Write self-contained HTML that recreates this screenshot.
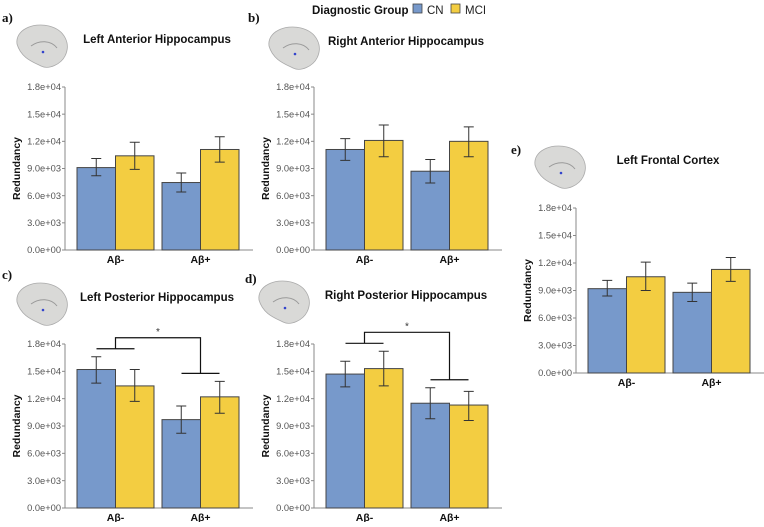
<!DOCTYPE html>
<html><head><meta charset="utf-8"><style>
body{margin:0;background:#fff;width:764px;height:522px;overflow:hidden}
svg{font-family:"Liberation Sans",sans-serif}
</style></head><body>
<svg id="c" width="764" height="522">
<g>
<text x="312" y="14" font-size="11.5" font-weight="bold" fill="#111">Diagnostic Group</text>
<rect x="413" y="4" width="9" height="9" fill="#7799cb" stroke="#444" stroke-width="0.8"/>
<text x="427" y="14" font-size="11.5" fill="#222">CN</text>
<rect x="451" y="4" width="9" height="9" fill="#f3cd41" stroke="#444" stroke-width="0.8"/>
<text x="465" y="14" font-size="11.5" fill="#222">MCI</text>
</g>
</svg>
<script>
const panelLetters=["a)","b)","c)","d)","e)"];
const panelTitles=["Left Anterior Hippocampus","Right Anterior Hippocampus","Left Posterior Hippocampus","Right Posterior Hippocampus","Left Frontal Cortex"];
const categories=["Aβ-","Aβ+"];
const tickValues=[0,3000,6000,9000,12000,15000,18000];
const tickLabels=["0.0e+00","3.0e+03","6.0e+03","9.0e+03","1.2e+04","1.5e+04","1.8e+04"];
const cnMeans=[[9100,7450],[11100,8700],[15200,9700],[14700,11500],[9200,8800]];
const cnLow=[[8200,6400],[9900,7400],[13700,8200],[13300,9800],[8400,7800]];
const cnHigh=[[10100,8500],[12300,10000],[16600,11200],[16100,13200],[10100,9800]];
const mciMeans=[[10400,11100],[12100,12000],[13400,12200],[15300,11300],[10500,11300]];
const mciLow=[[8900,9700],[10300,10300],[11700,10400],[13400,9600],[9000,10000]];
const mciHigh=[[11900,12500],[13800,13600],[15200,13900],[17200,12800],[12100,12600]];
const sig=[false,false,true,true,false];

const layout=[{ax:65,y0:250,top:87,lx:2,ly:22,bx:15,by:22},{ax:314,y0:250,top:87,lx:248,ly:22,bx:267,by:24},
{ax:65,y0:508,top:344,lx:2,ly:279,bx:15,by:280},{ax:314,y0:508,top:344,lx:245,ly:283,bx:257,by:278},
{ax:576,y0:373,top:208,lx:511,ly:154,bx:533,by:143}];
const NS="http://www.w3.org/2000/svg";
const svg=document.getElementById('c');
function mk(t,a,p){const e=document.createElementNS(NS,t);for(const k in a)e.setAttribute(k,a[k]);(p||svg).appendChild(e);return e;}
layout.forEach((L,i)=>{
  const g=mk('g',{});
  
  
  const y=v=>L.y0-v/18000*(L.y0-L.top);
  const x0=L.ax+12, bw=38.5, gap=8;
  const bx=(c,s)=>x0+c*(2*bw+gap)+s*bw;
  const lt=mk('text',{x:L.lx,y:L.ly,'font-size':13,'font-weight':'bold','font-family':'Liberation Serif,serif',fill:'#111'},g);lt.textContent=panelLetters[i];
  
  const br=mk('g',{},g);
  
  mk('path',{d:`M${L.bx+2},${L.by+22} C${L.bx},${L.by+8} ${L.bx+18},${L.by} ${L.bx+34},${L.by+4} C${L.bx+50},${L.by+8} ${L.bx+56},${L.by+22} ${L.bx+50},${L.by+34} C${L.bx+46},${L.by+42} ${L.bx+34},${L.by+48} ${L.bx+26},${L.by+44} C${L.bx+18},${L.by+40} ${L.bx+6},${L.by+36} ${L.bx+2},${L.by+22}Z`,fill:'#d9d9d7',stroke:'#aaa','stroke-width':0.8},br);
  mk('path',{d:`M${L.bx+16},${L.by+24} C${L.bx+24},${L.by+18} ${L.bx+36},${L.by+18} ${L.bx+42},${L.by+26}`,fill:'none',stroke:'#999','stroke-width':1},br);
  mk('circle',{cx:L.bx+28,cy:L.by+30,r:1.3,fill:'#3344cc'},br);
  const tt=mk('text',{x:L.ax+92,y:L.by+21,'font-size':11.5,'font-weight':'bold','text-anchor':'middle',fill:'#111'},g);tt.textContent=panelTitles[i];
  
  mk('line',{x1:L.ax,y1:L.top,x2:L.ax,y2:L.y0,stroke:'#888','stroke-width':1},g);
  mk('line',{x1:L.ax,y1:L.y0,x2:L.ax+188,y2:L.y0,stroke:'#888','stroke-width':1},g);
  tickValues.forEach((v,k)=>{
    mk('line',{x1:L.ax-3,y1:y(v),x2:L.ax,y2:y(v),stroke:'#888'},g);
    const t=mk('text',{x:L.ax-4,y:y(v)+3.2,'font-size':9.3,'text-anchor':'end',fill:'#555'},g);t.textContent=tickLabels[k];
    
  });
  const yl=mk('text',{x:0,y:0,'font-size':10.5,'font-weight':'bold','text-anchor':'middle',fill:'#111',transform:`translate(${L.ax-45},${(L.top+L.y0)/2}) rotate(-90)`},g);yl.textContent='Redundancy';
  
  categories.forEach((c,ci)=>{
    [[cnMeans,cnLow,cnHigh,'#7799cb','cn'],[mciMeans,mciLow,mciHigh,'#f3cd41','mci']].forEach((S,s)=>{
      const m=S[0][i][ci],lo=S[1][i][ci],hi=S[2][i][ci];
      const r=mk('rect',{x:bx(ci,s),y:y(m),width:bw,height:L.y0-y(m),fill:S[3],stroke:'#444','stroke-width':1},g);
      
      
      const cx=bx(ci,s)+bw/2;
      const eb=mk('path',{d:`M${cx-5},${y(hi)}H${cx+5}M${cx},${y(hi)}V${y(lo)}M${cx-5},${y(lo)}H${cx+5}`,stroke:'#333','stroke-width':1,fill:'none'},g);
      
    });
    const cl=mk('text',{x:bx(ci,1),y:L.y0+13,'font-size':10.5,'font-weight':'bold','text-anchor':'middle',fill:'#111'},g);cl.textContent=c;
    
  });
  if(sig[i]){
    const top1=Math.max(cnHigh[i][0],mciHigh[i][0]), top2=Math.max(cnHigh[i][1],mciHigh[i][1]);
    const yA=y(top1)-8, yB=y(top2)-8, yT=Math.min(yA,yB)-11;
    const xa=bx(0,1), xb=bx(1,1);
    const br2=mk('path',{d:`M${xa-19},${yA}H${xa+19}M${xa},${yA}V${yT}H${xb}V${yB}M${xb-19},${yB}H${xb+19}`,stroke:'#111','stroke-width':1.2,fill:'none'},g);
    
    const st=mk('text',{x:(xa+xb)/2,y:yT-3,'font-size':10,'text-anchor':'middle',fill:'#333'},g);st.textContent='*';
    
  }
});
</script>
</body></html>
